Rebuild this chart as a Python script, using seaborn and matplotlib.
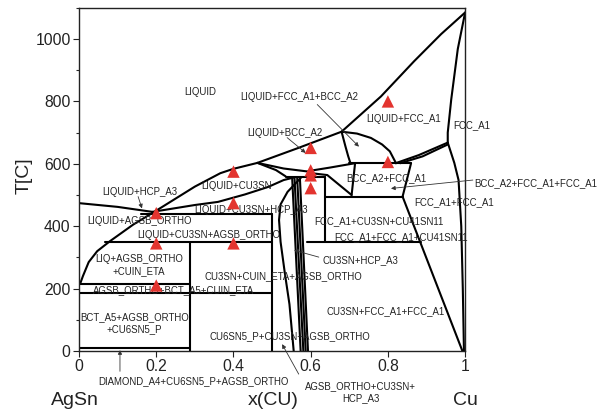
import matplotlib
matplotlib.use("Agg")
import matplotlib.pyplot as plt
import seaborn as sns
import pandas as pd
from matplotlib.ticker import MultipleLocator

# ---------------- data (x = mole fraction Cu, T in C) ----------------
liquidus = ([0.003, 0.01, 0.025, 0.047, 0.08, 0.14, 0.2, 0.3, 0.366, 0.4, 0.462, 0.566, 0.68, 0.782, 0.868, 0.938, 1.0],
            [216, 240, 285, 320, 352, 405, 450, 527, 570, 584, 603, 650, 703, 816, 929, 1016, 1085])
hcp_upper = ([0.0, 0.1, 0.19], [474, 462, 446])
l_cu3sn_lower = ([0.19, 0.3, 0.36, 0.43, 0.49, 0.53, 0.556], [446, 468, 478, 502, 526, 548, 556])
h438 = ([0.16, 0.5], [438, 438])
h350 = ([0.068, 0.5], [350, 350])
h215 = ([0.0, 0.288], [215, 215])
h185 = ([0.0, 0.5], [185, 185])
h10 = ([0.0, 0.288], [10, 10])
v0288 = ([0.288, 0.288], [350, 0])
v05 = ([0.5, 0.5], [438, 0])
hcp_curve = ([0.575, 0.54, 0.522, 0.518, 0.522, 0.533, 0.545, 0.556], [556, 510, 470, 420, 350, 250, 150, 0])
cu3sn_1 = ([0.552, 0.574], [556, 0])
cu3sn_2 = ([0.558, 0.581], [556, 0])
cu3sn_3 = ([0.565, 0.587], [556, 0])
cu3sn_4 = ([0.572, 0.593], [556, 0])
bundle_top = ([0.535, 0.636], [557, 557])
wedge_up = ([0.462, 0.53, 0.595], [603, 585, 575])
wedge_lo = ([0.462, 0.51, 0.535], [603, 580, 560])
w1 = ([0.595, 0.65, 0.715], [577, 588, 602])
w2 = ([0.595, 0.643, 0.706], [571, 564, 500])
v0636 = ([0.636, 0.636], [557, 349])
h602 = ([0.70, 0.86], [602, 602])
bcc_left = ([0.715, 0.706], [602, 500])
bcc_right = ([0.86, 0.838], [602, 495])
h495 = ([0.636, 0.838], [495, 495])
fcc_slant = ([0.838, 0.993], [495, 0])
h349 = ([0.59, 0.887], [349, 349])
dome_arc = ([0.68, 0.72, 0.756, 0.785, 0.805, 0.821], [703, 697, 683, 662, 640, 602])
dome_left = ([0.68, 0.69, 0.697, 0.703], [703, 656, 625, 602])
fcc_double1 = ([0.82, 0.88, 0.955], [602, 628, 668])
fcc_double2 = ([0.832, 0.89, 0.955], [602, 624, 662])
fcc_solidus = ([1.0, 0.981, 0.964, 0.955, 0.955], [1085, 968, 806, 700, 668])
fcc_solvus = ([0.955, 0.972, 0.983, 0.99, 0.994, 0.997], [668, 603, 548, 400, 200, 0])

boundaries = [liquidus, hcp_upper, l_cu3sn_lower, h438, h350, h215, h185, h10, v0288, v05,
              hcp_curve, cu3sn_1, cu3sn_2, cu3sn_3, cu3sn_4, bundle_top, wedge_up, wedge_lo,
              w1, w2, v0636, h602, bcc_left, bcc_right, h495, fcc_slant, h349, dome_arc,
              dome_left, fcc_double1, fcc_double2, fcc_solidus, fcc_solvus]

# experimental points
exp_x = [0.8, 0.6, 0.8, 0.6, 0.6, 0.6, 0.4, 0.4, 0.2, 0.2, 0.4, 0.2]
exp_T = [800, 651, 606, 579, 563, 522, 575, 474, 442, 345, 345, 210]

# phase labels
label_text = ["LIQUID", "LIQUID+FCC_A1+BCC_A2", "LIQUID+FCC_A1", "FCC_A1", "LIQUID+BCC_A2",
              "LIQUID+CU3SN", "LIQUID+HCP_A3", "BCC_A2+FCC_A1", "BCC_A2+FCC_A1+FCC_A1",
              "FCC_A1+FCC_A1", "LIQUID+AGSB_ORTHO", "LIQUID+CU3SN+HCP_A3",
              "FCC_A1+CU3SN+CU41SN11", "LIQUID+CU3SN+AGSB_ORTHO", "FCC_A1+FCC_A1+CU41SN11",
              "LIQ+AGSB_ORTHO\n+CUIN_ETA", "CU3SN+HCP_A3", "CU3SN+CUIN_ETA+AGSB_ORTHO",
              "AGSB_ORTHO+BCT_A5+CUIN_ETA", "BCT_A5+AGSB_ORTHO\n+CU6SN5_P", "CU3SN+FCC_A1+FCC_A1",
              "CU6SN5_P+CU3SN+AGSB_ORTHO", "DIAMOND_A4+CU6SN5_P+AGSB_ORTHO",
              "AGSB_ORTHO+CU3SN+\nHCP_A3"]
label_x = [0.314, 0.571, 0.842, 1.017, 0.532, 0.409, 0.158, 0.797, 1.183, 0.971, 0.157, 0.445,
           0.777, 0.337, 0.835, 0.155, 0.728, 0.528, 0.245, 0.143, 0.793, 0.546, 0.296, 0.73]
label_T = [830, 813, 745, 723, 700, 529, 510, 554, 539, 478, 416, 452, 417, 373, 364, 275,
           292, 239, 196, 90, 127, 48, -97, -133]

# arrows: tail -> head
arrow_tail_x = [0.617, 0.539, 0.153, 1.02, 0.621, 0.106, 0.569]
arrow_tail_T = [790, 684, 495, 548, 301, -65, -74]
arrow_head_x = [0.725, 0.587, 0.163, 0.808, 0.557, 0.106, 0.526]
arrow_head_T = [655, 635, 457, 521, 323, 3, 22]

x_ticks = [0, 0.2, 0.4, 0.6, 0.8, 1.0]
x_ticklabels = ["0", "0.2", "0.4", "0.6", "0.8", "1"]
y_ticks = [0, 200, 400, 600, 800, 1000]

# ---------------- plot ----------------
sns.set_theme(style="white")
plt.rcParams['font.family'] = ['Liberation Sans', 'DejaVu Sans']

fig = plt.figure(figsize=(6.08, 4.12), dpi=100)
ax = fig.add_axes([0.130, 0.148, 0.635, 0.833])

rows = []
for i, (bx, bt) in enumerate(boundaries):
    for k, (xx, tt) in enumerate(zip(bx, bt)):
        rows.append({"x": xx, "T": tt, "seg": i, "ord": k})
df = pd.DataFrame(rows)
sns.lineplot(data=df, x="x", y="T", units="seg", estimator=None, sort=False,
             color="black", lw=1.5, ax=ax, legend=False)

sns.scatterplot(x=exp_x, y=exp_T, marker="^", s=80, color="#e3342f", edgecolor="none",
                ax=ax, legend=False, zorder=5)

for t, lx, lt in zip(label_text, label_x, label_T):
    ax.text(lx, lt, t, ha="center", va="center", fontsize=6.9, color="#222222",
            clip_on=False, linespacing=1.25)

for tx, tt, hx, ht in zip(arrow_tail_x, arrow_tail_T, arrow_head_x, arrow_head_T):
    ax.annotate("", xy=(hx, ht), xytext=(tx, tt), annotation_clip=False,
                arrowprops=dict(arrowstyle="-|>", color="#333333", lw=0.6,
                                mutation_scale=6, shrinkA=0, shrinkB=0))

ax.set_xlim(0, 1.0)
ax.set_ylim(0, 1100)
ax.set_xticks(x_ticks)
ax.set_xticklabels(x_ticklabels)
ax.set_yticks(y_ticks)
ax.yaxis.set_minor_locator(MultipleLocator(100))
ax.tick_params(axis="both", which="major", direction="out", length=4, width=0.8,
               labelsize=11.3, pad=2, colors="#222222", bottom=True, left=True)
ax.tick_params(axis="y", which="minor", direction="out", length=2.5, width=0.8, left=True)
ax.set_xlabel("")
ax.set_ylabel("")
for s in ax.spines.values():
    s.set_color("#222222")
    s.set_linewidth(1.0)

ax.text(-0.01, -158, "AgSn", ha="center", va="center", fontsize=14, color="#222222", clip_on=False)
ax.text(0.504, -158, "x(CU)", ha="center", va="center", fontsize=14, color="#222222", clip_on=False)
ax.text(1.0, -158, "Cu", ha="center", va="center", fontsize=14, color="#222222", clip_on=False)
fig.text(24.5 / 608, 1 - 176 / 412, "T[C]", rotation=90, ha="center", va="center",
         fontsize=14, color="#222222")

fig.savefig("out.png", dpi=100)
